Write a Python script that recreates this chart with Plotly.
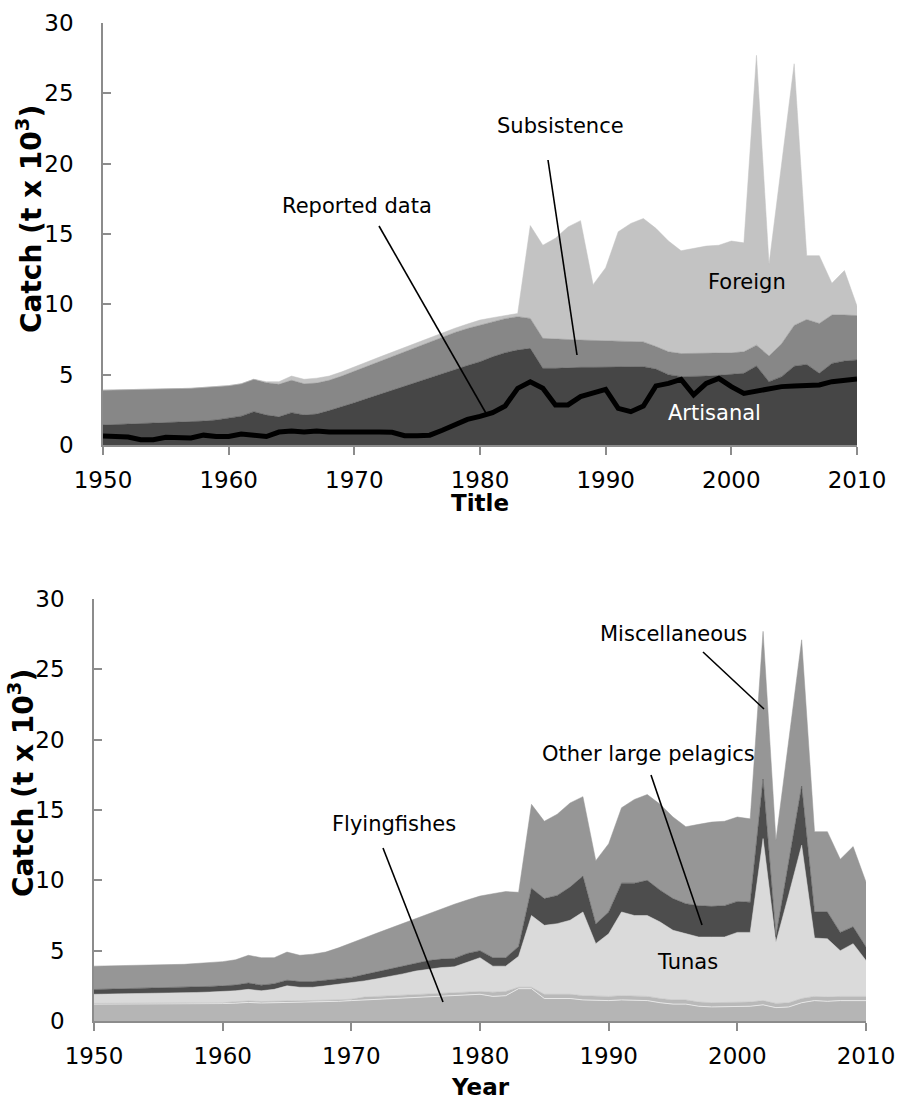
import plotly.graph_objects as go

W, H = 897, 1109

years = list(range(1950, 2011))

# ---------- Top panel (by sector), t x 10^3 ----------
artisanal = [1.42, 1.45, 1.48, 1.50, 1.53, 1.56, 1.60, 1.65, 1.70, 1.78,
             1.90, 2.05, 2.37, 2.13, 2.00, 2.30, 2.13, 2.20, 2.45, 2.70,
             3.00, 3.30, 3.60, 3.90, 4.20, 4.50, 4.80, 5.10, 5.40, 5.65,
             5.92, 6.27, 6.56, 6.75, 6.87, 5.45, 5.45, 5.50, 5.52, 5.52,
             5.52, 5.55, 5.57, 5.57, 5.40, 5.00, 4.86, 4.86, 4.90, 4.95,
             5.00, 5.10, 5.62, 4.50, 4.86, 5.60, 5.73, 5.10, 5.80, 5.97,
             6.05]
subsistence = [2.48, 2.46, 2.45, 2.45, 2.44, 2.43, 2.41, 2.38, 2.38, 2.36,
               2.32, 2.30, 2.30, 2.30, 2.31, 2.30, 2.22, 2.20, 2.15, 2.20,
               2.25, 2.30, 2.35, 2.40, 2.45, 2.50, 2.55, 2.60, 2.60, 2.63,
               2.61, 2.50, 2.42, 2.37, 2.13, 2.13, 2.07, 2.00, 1.94, 1.92,
               1.88, 1.83, 1.79, 1.76, 1.60, 1.63, 1.64, 1.64, 1.60, 1.55,
               1.55, 1.53, 1.48, 1.83, 2.34, 2.90, 3.19, 3.54, 3.44, 3.27,
               3.15]
foreign = [0, 0, 0, 0, 0, 0, 0, 0, 0, 0,
           0, 0, 0, 0.07, 0.19, 0.30, 0.32, 0.35, 0.30, 0.30,
           0.28, 0.30, 0.30, 0.30, 0.30, 0.30, 0.30, 0.30, 0.30, 0.32,
           0.35, 0.28, 0.22, 0.23, 6.60, 6.62, 7.18, 8.00, 8.49, 3.96,
           5.20, 7.78, 8.39, 8.77, 8.40, 7.87, 7.31, 7.48, 7.64, 7.70,
           7.95, 7.74, 20.60, 6.52, 12.80, 18.60, 4.54, 4.82, 2.26, 3.16,
           0.68]
reported = [0.64, 0.60, 0.57, 0.38, 0.38, 0.55, 0.50, 0.50, 0.70, 0.60,
            0.60, 0.78, 0.70, 0.60, 0.92, 1.00, 0.92, 1.00, 0.93, 0.93,
            0.93, 1.00, 0.93, 0.90, 0.66, 0.66, 0.70, 1.05, 1.42, 1.82,
            2.03, 2.30, 2.77, 4.03, 4.50, 4.03, 2.85, 2.85, 3.44, 3.67,
            3.96, 2.60, 2.37, 2.77, 4.20, 4.38, 4.67, 3.56, 4.38, 4.74,
            4.15, 3.67, 3.84, 4.03, 4.15, 4.20, 4.20, 4.27, 4.50, 4.62,
            4.69]

# ---------- Bottom panel (by taxon), t x 10^3 ----------
flyingfishes = [1.20, 1.20, 1.20, 1.20, 1.20, 1.21, 1.21, 1.22, 1.22, 1.23,
                1.24, 1.27, 1.32, 1.28, 1.30, 1.33, 1.30, 1.32, 1.36, 1.40,
                1.45, 1.50, 1.55, 1.60, 1.65, 1.70, 1.75, 1.78, 1.80, 1.85,
                1.90, 1.75, 1.80, 2.30, 2.30, 1.60, 1.60, 1.60, 1.50, 1.45,
                1.45, 1.50, 1.50, 1.45, 1.30, 1.20, 1.20, 1.05, 1.00, 1.00,
                1.00, 1.05, 1.15, 0.95, 1.00, 1.30, 1.45, 1.40, 1.45, 1.45,
                1.45]
other_small = [0.05] * 11 + [0.10] * 10 + [0.20] * 10 + [0.30, 0.30, 0.10, 0.10] + [0.30] * 26
tunas = [0.65, 0.66, 0.67, 0.68, 0.69, 0.70, 0.72, 0.73, 0.76, 0.78,
         0.81, 0.78, 0.83, 0.77, 0.85, 1.07, 1.00, 0.98, 1.04, 1.10,
         1.15, 1.15, 1.25, 1.35, 1.50, 1.65, 1.75, 1.82, 1.85, 2.15,
         2.40, 1.85, 1.80, 2.20, 5.10, 4.90, 5.02, 5.26, 5.95, 3.75,
         4.45, 5.95, 5.70, 5.75, 5.44, 4.95, 4.70, 4.62, 4.67, 4.67,
         5.00, 4.95, 11.52, 4.35, 7.70, 10.90, 4.15, 4.14, 3.25, 3.75,
         2.55]
other_large_pelagics = [0.34, 0.35, 0.36, 0.37, 0.38, 0.38, 0.38, 0.38, 0.39, 0.40,
                        0.40, 0.41, 0.45, 0.40, 0.40, 0.40, 0.40, 0.40, 0.40, 0.40,
                        0.40, 0.45, 0.50, 0.55, 0.55, 0.55, 0.60, 0.60, 0.60, 0.60,
                        0.50, 0.60, 0.60, 0.70, 1.94, 1.90, 2.01, 2.36, 2.55, 1.40,
                        1.55, 2.05, 2.30, 2.50, 2.26, 2.25, 2.14, 2.23, 2.18, 2.23,
                        2.20, 2.15, 4.23, 0.40, 2.40, 4.20, 1.85, 1.91, 1.30, 1.20,
                        0.96]
miscellaneous = [1.66, 1.65, 1.65, 1.65, 1.65, 1.65, 1.65, 1.65, 1.66, 1.68,
                 1.72, 1.79, 1.97, 1.95, 1.85, 2.00, 1.87, 1.95, 2.00, 2.20,
                 2.43, 2.60, 2.75, 2.90, 3.05, 3.20, 3.35, 3.60, 3.85, 3.80,
                 3.88, 4.55, 4.70, 3.85, 5.96, 5.50, 5.77, 5.98, 5.65, 4.50,
                 4.85, 5.36, 5.95, 6.10, 6.10, 5.80, 5.47, 5.78, 5.99, 6.00,
                 6.00, 5.92, 10.50, 6.85, 8.60, 10.40, 5.71, 5.71, 5.20, 5.70,
                 4.62]

x_ticks = [1950, 1960, 1970, 1980, 1990, 2000, 2010]
y_ticks = [0, 5, 10, 15, 20, 25, 30]

FONT = "DejaVu Sans"

fig = go.Figure()


def area(y, color, xa, ya, stack, line_color=None, line_width=0.5):
    fig.add_trace(go.Scatter(
        x=years, y=y, xaxis=xa, yaxis=ya, stackgroup=stack, mode="lines",
        line=dict(color=line_color or color, width=line_width),
        fillcolor=color, hoverinfo="skip", showlegend=False))


# top panel
area(artisanal, "#464646", "x", "y", "top")
area(subsistence, "#878787", "x", "y", "top")
area(foreign, "#c3c3c3", "x", "y", "top")
fig.add_trace(go.Scatter(x=years, y=reported, xaxis="x", yaxis="y", mode="lines",
                         line=dict(color="#000000", width=5), hoverinfo="skip",
                         showlegend=False))

# bottom panel
area(flyingfishes, "#b5b5b5", "x2", "y2", "bot", line_color="#e6e6e6", line_width=1)
area(other_small, "#b9b9b9", "x2", "y2", "bot")
area(tunas, "#dadada", "x2", "y2", "bot")
area(other_large_pelagics, "#4d4d4d", "x2", "y2", "bot")
area(miscellaneous, "#969696", "x2", "y2", "bot")


def px(x):
    return x / W


def py(y):
    return 1 - y / H


common_x = dict(range=[1950, 2010], tickvals=x_ticks, showgrid=False, zeroline=False,
                showline=True, linecolor="#8c8c8c", linewidth=1.5,
                ticks="outside", ticklen=8, tickcolor="#8c8c8c", tickwidth=1.5,
                tickfont=dict(family=FONT, size=23, color="#000"),
                ticklabelstandoff=6, automargin=False, fixedrange=True)
common_y = dict(range=[0, 30], tickvals=y_ticks, showgrid=False, zeroline=False,
                showline=True, linecolor="#8c8c8c", linewidth=1.5,
                ticks="inside", ticklen=8, tickcolor="#8c8c8c", tickwidth=1.5,
                tickfont=dict(family=FONT, size=23, color="#000"),
                ticklabelstandoff=23, automargin=False, fixedrange=True)

fig.update_layout(
    width=W, height=H, margin=dict(l=0, r=0, t=0, b=0),
    paper_bgcolor="white", plot_bgcolor="white", showlegend=False,
    xaxis=dict(domain=[px(103), px(857)], anchor="y", **common_x),
    yaxis=dict(domain=[py(445), py(23)], anchor="x", **common_y),
    xaxis2=dict(domain=[px(94), px(866)], anchor="y2", **common_x),
    yaxis2=dict(domain=[py(1021), py(599)], anchor="x2", **common_y),
)

ann = []


def text(t, x, y, size=21, bold=False, color="#000", angle=0):
    ann.append(dict(text=t, x=px(x), y=py(y), xref="paper", yref="paper",
                    showarrow=False, xanchor="center", yanchor="middle",
                    textangle=angle,
                    font=dict(family=FONT, size=size, color=color,
                              weight="bold" if bold else "normal")))


text("Catch (t x 10<sup>3</sup>)", 29, 219, size=28, bold=True, angle=-90)
text("Catch (t x 10<sup>3</sup>)", 21, 783, size=28, bold=True, angle=-90)
text("Title", 480, 503, size=23, bold=True)
text("Year", 480, 1087, size=23, bold=True)

text("Reported data", 357, 206)
text("Subsistence", 560, 126)
text("Foreign", 747, 282)
text("Artisanal", 714, 413, color="#ffffff")
text("Miscellaneous", 673, 634)
text("Other large pelagics", 648, 754)
text("Tunas", 687, 962)
text("Flyingfishes", 394, 824)

fig.update_layout(annotations=ann)

leaders = [((379, 226), (487, 415)),
           ((548, 160), (577, 355)),
           ((383, 848), (443, 1002)),
           ((651, 775), (702, 925)),
           ((703, 652), (764, 709))]
for (x0, y0), (x1, y1) in leaders:
    fig.add_shape(type="line", xref="paper", yref="paper",
                  x0=px(x0), y0=py(y0), x1=px(x1), y1=py(y1),
                  line=dict(color="#000000", width=1.6))

# remove the default 8px page margin so the figure sits at the window origin
fig.write_html("out.html",
               config={"displayModeBar": False, "staticPlot": False},
               post_script="document.body.style.margin='0';"
                           "document.body.style.overflow='hidden';"
                           "document.documentElement.style.overflow='hidden';")
